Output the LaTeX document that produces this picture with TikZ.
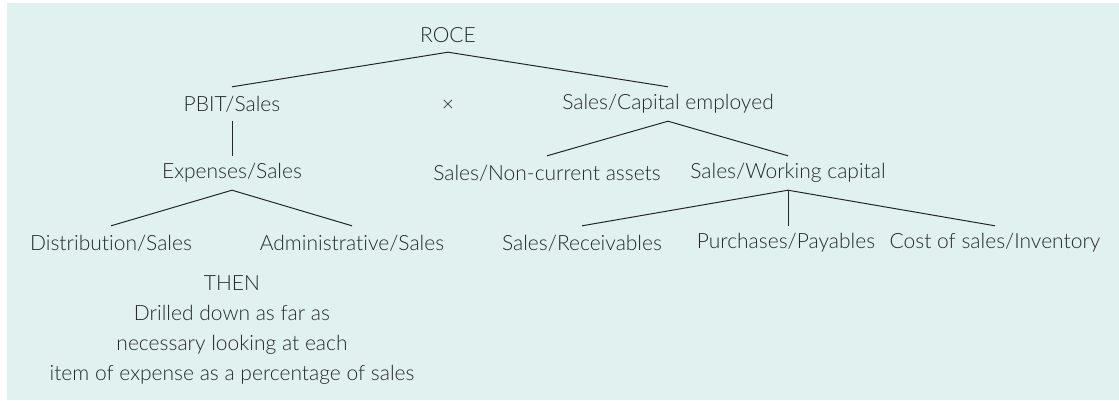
\documentclass[tikz,border=0pt]{standalone}
\usepackage{fontspec}
\setmainfont{Lato Light}[Ligatures=NoCommon]
\usepackage{tikz}
\usetikzlibrary{positioning}

\definecolor{paneltint}{RGB}{225,241,240}
\definecolor{inkgrey}{RGB}{40,40,40}

\tikzset{
    ratio/.style={text=inkgrey, font=\fontsize{21}{30}\selectfont,
        inner sep=0pt, minimum height=34pt, anchor=center},
    branch/.style={draw=black!85, line width=1pt}
}

\begin{document}
\begin{tikzpicture}[x=1pt, y=-1pt]
                \useasboundingbox (0,0) rectangle (1119,400);
                \fill[paneltint] (7,3) rectangle (1119,400);
                % top of the tree
                \node[ratio] (roce) at (448, 35) {ROCE};
                \node[ratio] (pbit) at (232, 104) {PBIT/Sales};
                \node[ratio] (times) at (448, 106) {×};
                \node[ratio] (scap) at (668, 104) {Sales/Capital employed};
                % left branch
                \node[ratio] (exps) at (232, 173) {Expenses/Sales};
                \node[ratio] (dist) at (111, 243) {Distribution/Sales};
                \node[ratio] (admin) at (352, 243) {Administrative/Sales};
                \node[ratio, align=center] (then) at (232, 330)
                    {THEN\\Drilled down as far as\\necessary looking at each\\item of expense as a percentage of sales};
                % right branch
                \node[ratio] (snca) at (547, 173) {Sales/Non-current assets};
                \node[ratio] (swc) at (788, 173) {Sales/Working capital};
                \node[ratio] (srec) at (582, 243) {Sales/Receivables};
                \node[ratio] (ppay) at (786, 243) {Purchases/Payables};
                \node[ratio] (cinv) at (995, 243) {Cost of sales/Inventory};
                % connectors
                \draw[branch] (pbit.north) -- (roce.south) -- (scap.north);
                \draw[branch] (pbit.south) -- (exps.north);
                \draw[branch] (dist.north) -- (exps.south) -- (admin.north);
                \draw[branch] (snca.north) -- (scap.south) -- (swc.north);
                \draw[branch] (srec.north) -- (swc.south) -- (cinv.north);
                \draw[branch] (swc.south) -- (swc.south |- ppay.north);
            \end{tikzpicture}
\end{document}
